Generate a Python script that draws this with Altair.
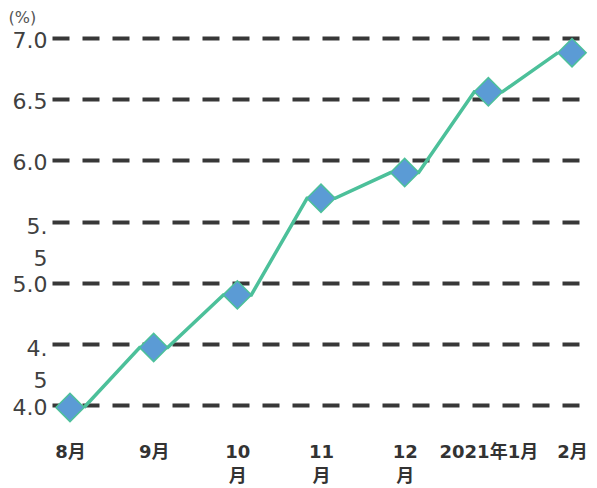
import json
import altair as alt
import pandas as pd

months = ["8月", "9月", "10月", "11月", "12月", "2021年1月", "2月"]
values = [3.98, 4.47, 4.90, 5.69, 5.90, 6.56, 6.88]
y_ticks = [4.0, 4.5, 5.0, 5.5, 6.0, 6.5, 7.0]
wrapped_months = ["10月", "11月", "12月"]
wrapped_y = ["4.5", "5.5"]

LINE_COLOR = "#4cc09a"
MARKER_FILL = "#5b9bd5"
GRID_COLOR = "#383838"
HALF = 0.167  # half diamond width in category units

n = len(months)
pts = pd.DataFrame({"idx": list(range(n)), "month": months, "value": values})

line_rows = []
for i, v in enumerate(values):
    if i > 0:
        line_rows.append({"x": i - HALF, "value": v})
    if i < n - 1:
        line_rows.append({"x": i + HALF, "value": v})
line_df = pd.DataFrame(line_rows)
line_df["order"] = range(len(line_df))

x_labels_js = [[m[:-1], m[-1]] if m in wrapped_months else m for m in months]
x_label_expr = json.dumps(x_labels_js, ensure_ascii=False) + "[datum.value]"
wrap_test = "indexof(" + json.dumps(wrapped_y) + ", format(datum.value, '.1f')) >= 0"
y_label_expr = (
    "indexof(" + json.dumps(wrapped_y) + ", datum.label) >= 0 ? "
    "[slice(datum.label, 0, 2), slice(datum.label, 2) + '\u00a0'] : datum.label"
)

FONT = "DejaVu Sans, Noto Sans CJK JP"

x_scale = alt.Scale(domain=[-0.215, 6.203], nice=False, zero=False)
y_scale = alt.Scale(domain=[4.0, 7.0], nice=False, zero=False)

x_axis = alt.Axis(
    values=list(range(n)), labelExpr=x_label_expr, title=None, grid=False,
    ticks=False, domain=False, labelFont=FONT, labelFontSize=18,
    labelFontWeight="bold", labelColor="#333333", labelPadding=38,
    labelLineHeight=24, labelBaseline="top", labelAlign="center",
)
y_axis = alt.Axis(
    values=y_ticks, format=".1f", labelExpr=y_label_expr, title="(%)",
    titleAngle=0, titleAlign="left", titleX=-44, titleY=-13,
    titleBaseline="bottom", titleFont=FONT, titleFontSize=16,
    titleFontWeight="normal", titleColor="#555555",
    grid=True, gridColor=GRID_COLOR, gridWidth=4, gridDash=[17, 13],
    gridOpacity=1, ticks=False, domain=False, labelFont=FONT,
    labelFontSize=22, labelColor="#404040", labelPadding=5,
    labelLineHeight=32, labelBaseline="middle",
    labelOffset={"condition": {"test": wrap_test, "value": 5}, "value": 2},
)

line = alt.Chart(line_df).mark_line(
    color=LINE_COLOR, strokeWidth=3.5, clip=False
).encode(
    x=alt.X("x:Q", scale=x_scale, axis=x_axis),
    y=alt.Y("value:Q", scale=y_scale, axis=y_axis),
    order="order:Q",
)

points = alt.Chart(pts).mark_point(
    shape="diamond", size=800, filled=True, fill=MARKER_FILL,
    stroke=LINE_COLOR, strokeWidth=1.5, opacity=1, clip=False
).encode(
    x=alt.X("idx:Q", scale=x_scale),
    y=alt.Y("value:Q", scale=y_scale),
)

chart = alt.layer(line, points).properties(
    width=537, height=367,
    autosize=alt.AutoSizeParams(type="none"),
    padding={"left": 44, "top": 30, "right": 0, "bottom": 80},
).configure(background="white").configure_view(stroke=None)

chart.save("out.html", embed_options={"renderer": "svg", "actions": False})
